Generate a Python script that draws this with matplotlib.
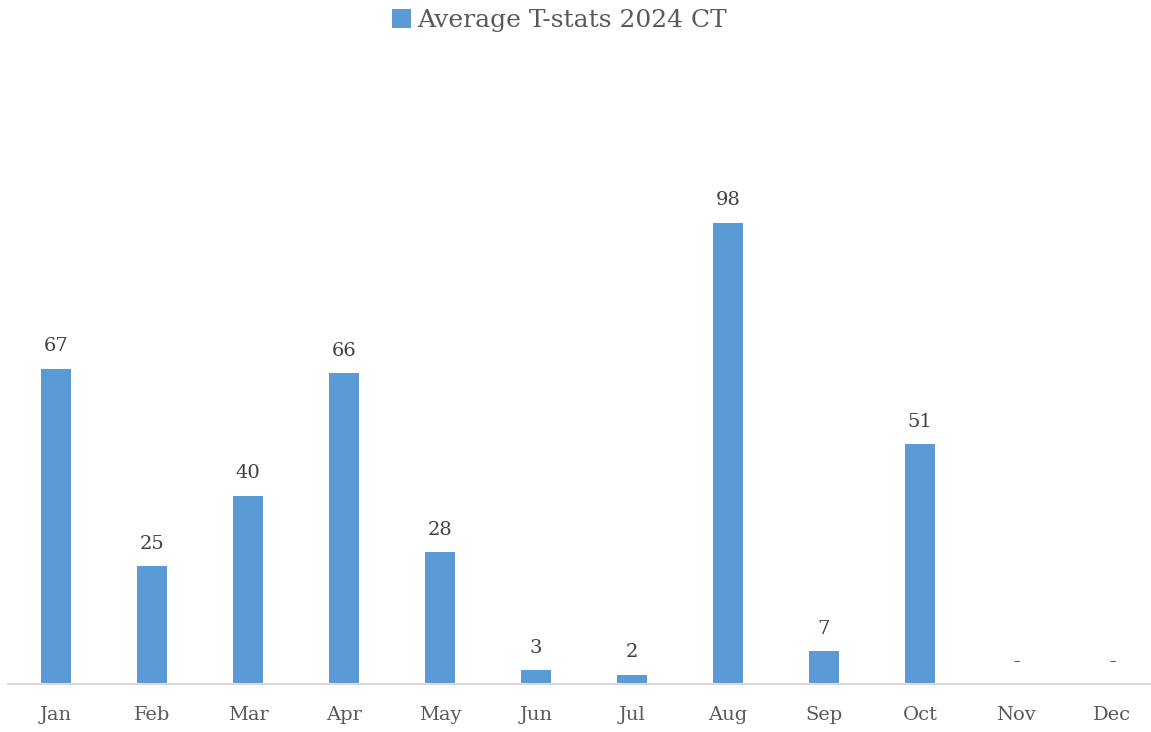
import matplotlib.pyplot as plt

months = ['Jan', 'Feb', 'Mar', 'Apr', 'May', 'Jun', 'Jul', 'Aug', 'Sep', 'Oct', 'Nov', 'Dec']
tstats = [67, 25, 40, 66, 28, 3, 2, 98, 7, 51, 0, 0]
series_name = 'Average T-stats 2024 CT'

plt.rcParams['font.family'] = ['DejaVu Serif']
text_color = '#595959'

fig = plt.figure(figsize=(11.51, 7.32), dpi=100)
ax = fig.add_axes([8 / 1151, 48 / 732, 1152 / 1151, 565 / 732])

x = range(len(months))
bars = ax.bar(x, tstats, width=0.31, color='#5B9BD5', label=series_name)

for xi, v in zip(x, tstats):
    txt = '-' if v == 0 else f'{v:.0f}'
    ax.annotate(txt, (xi, v), xytext=(0, 9.5), textcoords='offset points',
                ha='center', va='bottom', fontsize=14, color='#404040')

ax.set_xlim(-0.5, len(months) - 0.5)
ax.set_ylim(0, 120)
ax.set_xticks(list(x))
ax.set_xticklabels(months, fontsize=14, color=text_color)
ax.tick_params(axis='x', length=0, pad=16)
ax.set_yticks([])
for side in ['top', 'right', 'left']:
    ax.spines[side].set_visible(False)
ax.spines['bottom'].set_color('#D9D9D9')
ax.spines['bottom'].set_linewidth(1.5)

fig.legend(loc='upper center', bbox_to_anchor=(0.486, 1.018), frameon=False,
           fontsize=18, handlelength=0.75, handleheight=0.75, handletextpad=0.25,
           labelcolor=text_color)

plt.savefig('out.png', dpi=100)
